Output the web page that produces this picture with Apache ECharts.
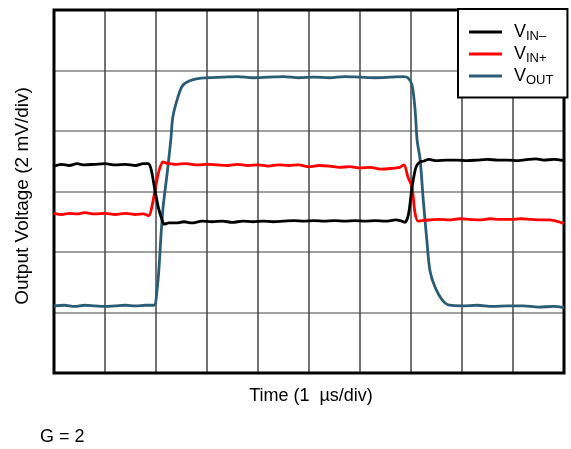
<!DOCTYPE html>
<html>
<head>
<meta charset="utf-8">
<script src="https://cdn.jsdelivr.net/npm/echarts@6/dist/echarts.min.js"></script>
<style>
  html, body { margin: 0; padding: 0; background: #fff; }
  #chart { width: 571px; height: 449px; }
</style>
</head>
<body>
<div id="chart"></div>
<script>
  // time in µs (1 µs/div), voltage in divisions (2 mV/div)
  const vinMinusT = [0, 0.15, 0.3, 0.45, 0.6, 0.8, 1.0, 1.2, 1.4, 1.6, 1.75, 1.84, 1.9, 1.98, 2.05, 2.12, 2.16, 2.25, 2.4, 2.55, 2.7, 2.9, 3.1, 3.3, 3.5, 3.7, 3.9, 4.1, 4.3, 4.5, 4.7, 4.9, 5.1, 5.3, 5.5, 5.7, 5.9, 6.1, 6.3, 6.5, 6.7, 6.82, 6.88, 6.95, 7.02, 7.08, 7.12, 7.18, 7.24, 7.35, 7.5, 7.7, 7.9, 8.1, 8.3, 8.5, 8.7, 8.9, 9.1, 9.3, 9.45, 9.6, 9.8, 10]
  const vinMinusV = [3.42, 3.45, 3.43, 3.46, 3.44, 3.45, 3.46, 3.44, 3.45, 3.43, 3.46, 3.46, 3.38, 3.02, 2.72, 2.53, 2.46, 2.48, 2.48, 2.50, 2.48, 2.51, 2.50, 2.51, 2.49, 2.51, 2.50, 2.51, 2.50, 2.51, 2.52, 2.51, 2.52, 2.51, 2.52, 2.51, 2.52, 2.51, 2.52, 2.51, 2.53, 2.51, 2.49, 2.62, 3.07, 3.35, 3.44, 3.49, 3.50, 3.53, 3.51, 3.52, 3.52, 3.51, 3.52, 3.53, 3.52, 3.52, 3.51, 3.53, 3.54, 3.52, 3.53, 3.51]

  const vinPlusT = [0, 0.15, 0.3, 0.45, 0.6, 0.8, 1.0, 1.2, 1.4, 1.6, 1.75, 1.86, 1.92, 1.98, 2.04, 2.08, 2.14, 2.2, 2.27, 2.4, 2.6, 2.8, 3.0, 3.2, 3.4, 3.6, 3.8, 4.0, 4.2, 4.4, 4.6, 4.8, 5.0, 5.2, 5.4, 5.6, 5.8, 6.0, 6.2, 6.4, 6.6, 6.78, 6.86, 6.94, 7.02, 7.08, 7.14, 7.22, 7.37, 7.55, 7.75, 7.95, 8.15, 8.35, 8.55, 8.75, 8.95, 9.15, 9.35, 9.55, 9.7, 9.85, 10]
  const vinPlusV = [2.64, 2.62, 2.64, 2.63, 2.65, 2.63, 2.64, 2.62, 2.64, 2.62, 2.63, 2.60, 2.75, 3.02, 3.28, 3.40, 3.49, 3.47, 3.46, 3.45, 3.46, 3.44, 3.45, 3.44, 3.43, 3.45, 3.43, 3.44, 3.42, 3.44, 3.43, 3.44, 3.41, 3.43, 3.42, 3.40, 3.41, 3.39, 3.40, 3.37, 3.38, 3.40, 3.44, 3.24, 3.07, 2.64, 2.51, 2.52, 2.53, 2.54, 2.53, 2.55, 2.54, 2.53, 2.55, 2.54, 2.54, 2.55, 2.54, 2.53, 2.53, 2.51, 2.47]

  const voutT = [0, 0.2, 0.4, 0.6, 0.8, 1.0, 1.2, 1.4, 1.6, 1.8, 1.96, 2.02, 2.06, 2.1, 2.14, 2.22, 2.29, 2.33, 2.43, 2.53, 2.73, 3.0, 3.3, 3.6, 3.9, 4.2, 4.5, 4.8, 5.1, 5.4, 5.7, 6.0, 6.3, 6.6, 6.85, 6.94, 7.02, 7.08, 7.12, 7.18, 7.24, 7.31, 7.37, 7.47, 7.61, 7.76, 8.0, 8.3, 8.6, 8.9, 9.2, 9.5, 9.8, 10]
  const voutV = [1.11, 1.12, 1.10, 1.12, 1.11, 1.10, 1.11, 1.12, 1.11, 1.12, 1.12, 1.37, 1.75, 2.3, 2.75, 3.31, 3.85, 4.23, 4.56, 4.76, 4.85, 4.88, 4.89, 4.90, 4.88, 4.89, 4.90, 4.88, 4.89, 4.88, 4.90, 4.89, 4.88, 4.89, 4.90, 4.88, 4.76, 4.35, 3.85, 3.52, 2.86, 2.20, 1.70, 1.42, 1.21, 1.12, 1.11, 1.12, 1.10, 1.11, 1.11, 1.09, 1.10, 1.08]

  const seriesNames = ['VIN–', 'VIN+', 'VOUT']
  const seriesSubs = ['IN–', 'IN+', 'OUT']
  const seriesColors = ['#000000', '#ff0000', '#2a5d75']

  function pairs(t, v) {
    return t.map((x, i) => [x, v[i]])
  }
  const seriesData = [pairs(vinMinusT, vinMinusV), pairs(vinPlusT, vinPlusV), pairs(voutT, voutV)]

  const font = '"Liberation Sans", Arial, sans-serif'
  const myChart = echarts.init(document.getElementById('chart'))
  myChart.setOption({
    animation: false,
    grid: {
      left: 54,
      top: 10,
      width: 510,
      height: 363,
      show: true,
      borderColor: '#000',
      borderWidth: 3,
      z: 3
    },
    xAxis: {
      type: 'value',
      min: 0,
      max: 10,
      interval: 1,
      axisLine: { show: false },
      axisTick: { show: false },
      axisLabel: { show: false },
      splitLine: { lineStyle: { color: '#454545', width: 1.5 } }
    },
    yAxis: {
      type: 'value',
      min: 0,
      max: 6,
      interval: 1,
      axisLine: { show: false },
      axisTick: { show: false },
      axisLabel: { show: false },
      splitLine: { lineStyle: { color: '#808080', width: 1.5 } }
    },
    legend: {
      orient: 'vertical',
      left: 458,
      top: 9,
      padding: [14, 14, 11, 11],
      icon: 'rect',
      itemWidth: 33,
      itemHeight: 3,
      itemGap: 2.5,
      backgroundColor: '#fff',
      borderColor: '#000',
      borderWidth: 2,
      borderRadius: 0,
      z: 10,
      data: seriesNames,
      formatter: name => '{v|V}{s|' + seriesSubs[seriesNames.indexOf(name)] + '}',
      textStyle: {
        color: '#000',
        fontFamily: font,
        rich: {
          v: { fontSize: 18, fontFamily: font, padding: [0, 0, 0, 7], lineHeight: 21 },
          s: { fontSize: 13, fontFamily: font, verticalAlign: 'bottom', padding: [8, 0, 0, 0] }
        }
      }
    },
    series: seriesNames.map((name, i) => ({
      name: name,
      type: 'line',
      data: seriesData[i],
      symbol: 'none',
      smooth: 0.3,
      z: 5 - i,
      lineStyle: { color: seriesColors[i], width: 2.8 },
      itemStyle: { color: seriesColors[i] }
    })),
    graphic: [
      {
        type: 'text',
        x: 23,
        y: 196,
        rotation: Math.PI / 2,
        style: {
          text: 'Output Voltage (2 mV/div)',
          font: '19px ' + font,
          fill: '#000',
          align: 'center',
          verticalAlign: 'middle'
        }
      },
      {
        type: 'text',
        x: 311,
        y: 396,
        style: {
          text: 'Time (1  µs/div)',
          font: '18px ' + font,
          fill: '#000',
          align: 'center',
          verticalAlign: 'middle'
        }
      },
      {
        type: 'text',
        x: 40,
        y: 437,
        style: {
          text: 'G = 2',
          font: '18px ' + font,
          fill: '#000',
          align: 'left',
          verticalAlign: 'middle'
        }
      }
    ]
  })
</script>
</body>
</html>
